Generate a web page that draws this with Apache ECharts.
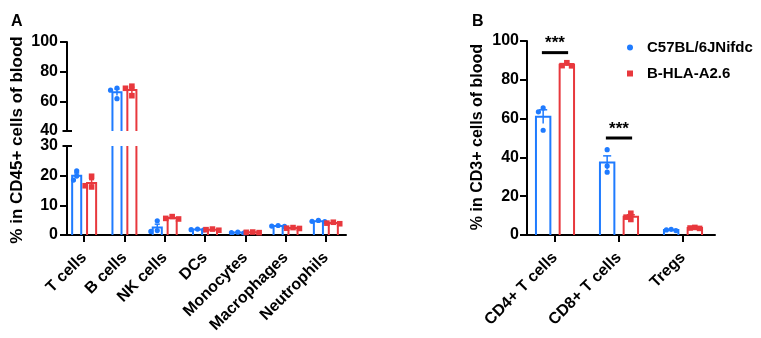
<!DOCTYPE html>
<html><head><meta charset="utf-8">
<script src="https://cdn.jsdelivr.net/npm/echarts@6/dist/echarts.min.js"></script>
<style>html,body{margin:0;padding:0;background:#fff}#c{width:761px;height:338px}</style>
</head><body><div id="c"></div>
<script>
// ---------- data ----------
const seriesNames = ['C57BL/6JNifdc', 'B-HLA-A2.6'];
const catsA = ['T cells', 'B cells', 'NK cells', 'DCs', 'Monocytes', 'Macrophages', 'Neutrophils'];
const c57A = [[21.6, 19.9, 18.5], [69.0, 67.5, 61.8], [4.8, 1.5, 1.2], [2.0, 1.8, 1.7], [0.95, 0.85, 0.75], [3.2, 3.0, 2.9], [4.9, 4.6, 4.5]];
const hlaA = [[19.8, 16.2, 16.6], [70.2, 68.8, 63.8], [6.2, 5.6, 5.4], [2.0, 1.8, 1.6], [1.0, 0.9, 0.8], [2.5, 2.3, 2.2], [4.3, 4.0, 3.8]];
const catsB = ['CD4+ T cells', 'CD8+ T cells', 'Tregs'];
const c57B = [[65.5, 63.5, 54.0], [44.0, 35.6, 32.4], [2.9, 2.6, 2.3]];
const hlaB = [[88.8, 87.3, 87.2], [11.2, 9.2, 8.0], [3.9, 3.6, 3.4]];
const sigCats = [0, 1];
const sigLevels = [94, 50];
const sigLabel = '***';
const ticksAUpper = [40, 60, 80, 100];
const ticksALower = [0, 10, 20, 30];
const ticksB = [0, 20, 40, 60, 80, 100];
const yTitleA = '% in CD45+ cells of blood';
const yTitleB = '% in CD3+ cells of blood';
const panelLabels = ['A', 'B'];

// ---------- style ----------
const BLUE = '#1f7bff', RED = '#e8383d';
const FONT = '"Liberation Sans", Arial, sans-serif';

function mean(a) { return a.reduce((s, v) => s + v, 0) / a.length; }
function sem(a) { const m = mean(a); const v = a.reduce((s, x) => s + (x - m) * (x - m), 0) / (a.length - 1); return Math.sqrt(v / a.length); }
function toData(groups) { return groups.map((p, i) => [i, mean(p), sem(p)].concat(p)); }

function makeRender(sign, color, shape) {
  return function (params, api) {
    const cat = api.value(0), m = api.value(1), s = api.value(2);
    const pts = [api.value(3), api.value(4), api.value(5)];
    const cs = params.coordSys;
    const band = api.size([1, 0])[0];
    const cx = api.coord([cat, 0])[0] + sign * 0.185 * band;
    const bw = 0.225 * band;
    const top = cs.y, bot = cs.y + cs.height;
    const clamp = y => Math.max(top, Math.min(bot, y));
    const ch = [];
    const lw = 2;
    const x0 = cx - bw / 2, x1 = cx + bw / 2;
    const yM = api.coord([cat, m])[1];
    if (yM < bot) {
      if (yM >= top) {
        ch.push({ type: 'polyline', shape: { points: [[x0, bot], [x0, yM], [x1, yM], [x1, bot]] }, style: { stroke: color, lineWidth: lw, fill: null, lineJoin: 'miter' } });
      } else {
        ch.push({ type: 'line', shape: { x1: x0, y1: bot, x2: x0, y2: top }, style: { stroke: color, lineWidth: lw } });
        ch.push({ type: 'line', shape: { x1: x1, y1: bot, x2: x1, y2: top }, style: { stroke: color, lineWidth: lw } });
      }
    }
    // error bar (mean +/- SEM)
    const yHi = api.coord([cat, m + s])[1], yLo = api.coord([cat, m - s])[1];
    if (!(yHi > bot || yLo < top)) {
      ch.push({ type: 'line', shape: { x1: cx, y1: clamp(yLo), x2: cx, y2: clamp(yHi) }, style: { stroke: color, lineWidth: 1.5 } });
      if (yHi >= top && yHi <= bot) {
        const cw = bw * 0.28;
        ch.push({ type: 'line', shape: { x1: cx - cw, y1: yHi, x2: cx + cw, y2: yHi }, style: { stroke: color, lineWidth: 1.5 } });
      }
    }
    // individual points
    const r = 2.6, d = Math.max(3.2, bw * 0.33), thr = 4.2;
    const placed = [];
    pts.forEach(v => {
      const y = api.coord([cat, v])[1];
      if (y < top - 0.5 || y > bot + 0.5) return;
      let off = 0;
      for (const c of [0, -d, d, -2 * d, 2 * d]) {
        if (placed.every(p => Math.hypot(p[0] - (cx + c), p[1] - y) >= thr)) { off = c; break; }
      }
      placed.push([cx + off, y]);
      if (shape === 'circle') ch.push({ type: 'circle', shape: { cx: cx + off, cy: y, r: r }, style: { fill: color } });
      else ch.push({ type: 'rect', shape: { x: cx + off - 2.8, y: y - 2.8, width: 5.6, height: 5.6 }, style: { fill: color } });
    });
    return { type: 'group', children: ch };
  };
}

function sigRender(params, api) {
  const cat = api.value(0), v = api.value(1);
  const band = api.size([1, 0])[0];
  const cx = api.coord([cat, 0])[0];
  const y = api.coord([cat, v])[1];
  const hw = 0.205 * band;
  return { type: 'group', children: [
    { type: 'line', shape: { x1: cx - hw, y1: y, x2: cx + hw, y2: y }, style: { stroke: '#000', lineWidth: 3 } },
    { type: 'text', x: cx, y: y - 9, style: { text: sigLabel, align: 'center', verticalAlign: 'middle', font: 'bold 17px ' + FONT, fill: '#000' } }
  ] };
}

const axisLineStyle = { show: true, lineStyle: { color: '#000', width: 2 } };
const tickStyle = { show: true, length: 7, lineStyle: { color: '#000', width: 2 } };
const labelStyle = { color: '#000', fontSize: 16, fontWeight: 'bold', fontFamily: FONT };

function yAxisCfg(grid, min, max, interval, offset, margin, tickVals) {
  const cfg = { type: 'value', gridIndex: grid, min: min, max: max, interval: interval, offset: offset,
    axisLine: axisLineStyle, axisTick: Object.assign({}, tickStyle), splitLine: { show: false },
    axisLabel: Object.assign({ margin: margin }, labelStyle) };
  if (tickVals) cfg.axisTick.customValues = tickVals;
  return cfg;
}
function xAxisCfg(grid, cats, show) {
  return { type: 'category', gridIndex: grid, data: cats, show: show,
    axisLine: axisLineStyle, axisTick: Object.assign({ alignWithLabel: true }, tickStyle),
    axisLabel: Object.assign({ rotate: 45, interval: 0, margin: 20 }, labelStyle) };
}

const chart = echarts.init(document.getElementById('c'), null, { renderer: 'canvas' });
const option = {
  animation: false,
  backgroundColor: '#fff',
  title: [
    { text: panelLabels[0], left: 6, top: 9, textStyle: { fontSize: 16, fontWeight: 'bold', fontFamily: FONT, color: '#000' } },
    { text: panelLabels[1], left: 467, top: 9, textStyle: { fontSize: 16, fontWeight: 'bold', fontFamily: FONT, color: '#000' } }
  ],
  legend: {
    orient: 'vertical', left: 622, top: 35, itemWidth: 6, itemHeight: 6, itemGap: 11,
    data: [{ name: seriesNames[0], icon: 'circle' }, { name: seriesNames[1], icon: 'rect' }],
    textStyle: { fontSize: 15, fontWeight: 'bold', fontFamily: FONT, color: '#000', padding: [0, 0, 0, 9] },
    selectedMode: false
  },
  grid: [
    { left: 64, top: 42, width: 282, height: 89 },
    { left: 64, top: 146, width: 282, height: 89 },
    { left: 523, top: 41, width: 192, height: 194 }
  ],
  xAxis: [xAxisCfg(0, catsA, false), xAxisCfg(1, catsA, true), xAxisCfg(2, catsB, true)],
  yAxis: [
    yAxisCfg(0, ticksAUpper[0], ticksAUpper[ticksAUpper.length - 1], ticksAUpper[1] - ticksAUpper[0], -3, 9, ticksAUpper.slice(1)),
    yAxisCfg(1, ticksALower[0], ticksALower[ticksALower.length - 1], ticksALower[1] - ticksALower[0], -3, 9, ticksALower.slice(0, -1)),
    yAxisCfg(2, ticksB[0], ticksB[ticksB.length - 1], ticksB[1] - ticksB[0], -4, 8, null)
  ],
  series: [
    { type: 'custom', name: seriesNames[0], xAxisIndex: 0, yAxisIndex: 0, itemStyle: { color: BLUE }, renderItem: makeRender(-1, BLUE, 'circle'), data: toData(c57A), encode: { x: 0, y: 1 } },
    { type: 'custom', name: seriesNames[1], xAxisIndex: 0, yAxisIndex: 0, itemStyle: { color: RED }, renderItem: makeRender(1, RED, 'rect'), data: toData(hlaA), encode: { x: 0, y: 1 } },
    { type: 'custom', name: seriesNames[0], xAxisIndex: 1, yAxisIndex: 1, itemStyle: { color: BLUE }, renderItem: makeRender(-1, BLUE, 'circle'), data: toData(c57A), encode: { x: 0, y: 1 } },
    { type: 'custom', name: seriesNames[1], xAxisIndex: 1, yAxisIndex: 1, itemStyle: { color: RED }, renderItem: makeRender(1, RED, 'rect'), data: toData(hlaA), encode: { x: 0, y: 1 } },
    { type: 'custom', name: seriesNames[0], xAxisIndex: 2, yAxisIndex: 2, itemStyle: { color: BLUE }, renderItem: makeRender(-1, BLUE, 'circle'), data: toData(c57B), encode: { x: 0, y: 1 } },
    { type: 'custom', name: seriesNames[1], xAxisIndex: 2, yAxisIndex: 2, itemStyle: { color: RED }, renderItem: makeRender(1, RED, 'rect'), data: toData(hlaB), encode: { x: 0, y: 1 } },
    { type: 'custom', name: 'sig', xAxisIndex: 2, yAxisIndex: 2, renderItem: sigRender, data: sigCats.map((c, i) => [c, sigLevels[i]]), encode: { x: 0, y: 1 } }
  ],
  graphic: [
    { type: 'text', x: 17, y: 140, rotation: Math.PI / 2, style: { text: yTitleA, align: 'center', verticalAlign: 'middle', font: 'bold 17px ' + FONT, fill: '#000' } },
    { type: 'text', x: 478, y: 137, rotation: Math.PI / 2, style: { text: yTitleB, align: 'center', verticalAlign: 'middle', font: 'bold 16px ' + FONT, fill: '#000' } }
  ]
};
chart.setOption(option);

// axis-break caps on the split y axis of panel A
const yUp = chart.convertToPixel({ yAxisIndex: 0 }, ticksAUpper[0]);
const yLow = chart.convertToPixel({ yAxisIndex: 1 }, ticksALower[ticksALower.length - 1]);
const gridRect = chart.getModel().getComponent('grid', 0).coordinateSystem.getRect();
const axX = gridRect.x + 3;
chart.setOption({ graphic: option.graphic.concat([
  { type: 'line', shape: { x1: axX - 4.5, y1: yUp, x2: axX + 5, y2: yUp }, style: { stroke: '#000', lineWidth: 2 } },
  { type: 'line', shape: { x1: axX - 4.5, y1: yLow, x2: axX + 5, y2: yLow }, style: { stroke: '#000', lineWidth: 2 } }
]) });
</script></body></html>
